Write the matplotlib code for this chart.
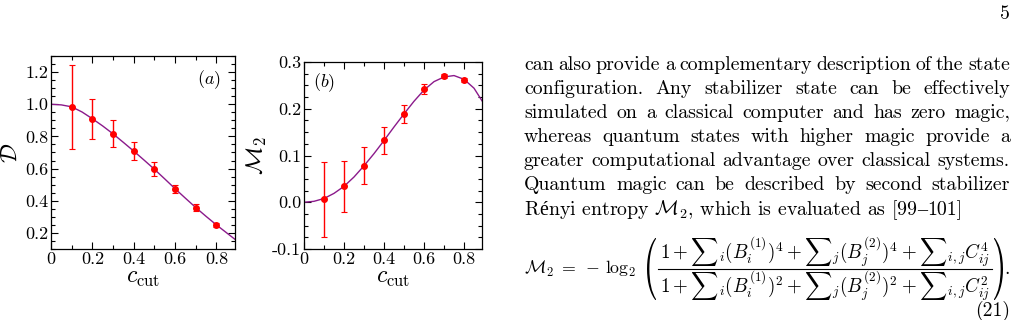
import numpy as np
import matplotlib
matplotlib.use('Agg')
import matplotlib.pyplot as plt
from matplotlib.ticker import MultipleLocator
from matplotlib.textpath import TextPath
from matplotlib.patches import PathPatch
from matplotlib.font_manager import FontProperties
from matplotlib.transforms import Affine2D, IdentityTransform
from matplotlib.lines import Line2D

plt.rcParams['mathtext.fontset'] = 'cm'
plt.rcParams['font.family'] = ['cmr10', 'DejaVu Serif']
plt.rcParams['axes.unicode_minus'] = False

# measured points (red, with error bars)
c_pts = [0.1, 0.2, 0.3, 0.4, 0.5, 0.6, 0.7, 0.8]
D_pts = [0.983, 0.908, 0.817, 0.708, 0.598, 0.473, 0.358, 0.250]
D_err = [0.260, 0.126, 0.082, 0.056, 0.042, 0.027, 0.020, 0.012]
M_pts = [0.006, 0.034, 0.078, 0.133, 0.189, 0.242, 0.270, 0.262]
M_err = [0.081, 0.054, 0.040, 0.029, 0.020, 0.010, 0.004, 0.004]

# theory curves (purple)
c_line = [0.0, 0.05, 0.1, 0.15, 0.2, 0.25, 0.3, 0.35, 0.4, 0.45,
          0.5, 0.55, 0.6, 0.65, 0.7, 0.75, 0.8, 0.85, 0.89]
D_line = [1.0, 0.996, 0.984, 0.952, 0.910, 0.865, 0.816, 0.763, 0.709, 0.653,
          0.596, 0.536, 0.475, 0.416, 0.358, 0.303, 0.250, 0.200, 0.160]
M_line = [0.0, 0.002, 0.008, 0.019, 0.034, 0.054, 0.078, 0.104, 0.132, 0.161,
          0.189, 0.216, 0.240, 0.258, 0.268, 0.271, 0.263, 0.244, 0.217]

D_ticks = [0.2, 0.4, 0.6, 0.8, 1.0, 1.2]
M_ticks = [-0.1, 0.0, 0.1, 0.2, 0.3]
x_ticks = [0, 0.2, 0.4, 0.6, 0.8]

body_lines = [
    'can also provide a complementary description of the state',
    'configuration. Any stabilizer state can be effectively',
    'simulated on a classical computer and has zero magic,',
    'whereas quantum states with higher magic provide a',
    'greater computational advantage over classical systems.',
    'Quantum magic can be described by second stabilizer',
]
# last (ragged) line as runs: (text, font)
last_runs = [('R', 'cmr10'), ('é', 'Liberation Serif'),
             (r'nyi entropy $\mathcal{M}_2$, which is evaluated as [99', 'cmr10'),
             ('–', 'Liberation Serif'), ('101]', 'cmr10')]

lhs_eq = r'$\mathcal{M}_2 \;=\; -\,\log_2$'
numer = r'$1+{\sum}_i(B_i^{(1)})^4+{\sum}_j(B_j^{(2)})^4+{\sum}_{i,j}C_{ij}^4$'
denom = r'$1+{\sum}_i(B_i^{(1)})^2+{\sum}_j(B_j^{(2)})^2+{\sum}_{i,j}C_{ij}^2$'

W, H = 1025, 320
fig = plt.figure(figsize=(W / 100, H / 100), dpi=100)
renderer = fig.canvas.get_renderer()


def box(x0, y0, x1, y1):
    return [x0 / W, 1 - y1 / H, (x1 - x0) / W, (y1 - y0) / H]


def style(ax, yticks, ylabels, ylim, yminor):
    ax.set_xlim(0, 0.89)
    ax.set_ylim(*ylim)
    ax.set_xticks(x_ticks)
    ax.set_xticklabels(['0', '0.2', '0.4', '0.6', '0.8'])
    ax.set_yticks(yticks)
    ax.set_yticklabels(ylabels)
    ax.xaxis.set_minor_locator(MultipleLocator(0.1))
    ax.yaxis.set_minor_locator(MultipleLocator(yminor))
    ax.tick_params(which='both', direction='in', top=True, right=True,
                   labelsize=13, width=0.8, pad=2)
    ax.tick_params(which='major', length=5)
    ax.tick_params(which='minor', length=3)
    for s in ax.spines.values():
        s.set_linewidth(0.9)
    ax.set_xlabel(r'$c_{\mathrm{cut}}$', fontsize=17, labelpad=0)


ax1 = fig.add_axes(box(51, 56, 235, 249))
ax1.plot(c_line, D_line, color='#8b1a8b', lw=1.0, zorder=2)
ax1.errorbar(c_pts, D_pts, yerr=D_err, fmt='o', color='red', ms=4,
             elinewidth=1.0, capsize=2, capthick=0.8, zorder=3)
style(ax1, D_ticks, ['0.2', '0.4', '0.6', '0.8', '1.0', '1.2'], (0.1, 1.3), 0.05)
ax1.set_ylabel(r'$\mathcal{D}$', fontsize=17, labelpad=2)
ax1.text(0.856, 0.876, r'$(a)$', transform=ax1.transAxes, fontsize=13,
         ha='center', va='center')

ax2 = fig.add_axes(box(304, 62, 482, 249))
ax2.plot(c_line, M_line, color='#8b1a8b', lw=1.0, zorder=2)
ax2.errorbar(c_pts, M_pts, yerr=M_err, fmt='o', color='red', ms=4,
             elinewidth=1.0, capsize=2, capthick=0.8, zorder=3)
style(ax2, M_ticks, ['-0.1', '0.0', '0.1', '0.2', '0.3'], (-0.1, 0.3), 0.025)
ax2.set_ylabel(r'$\mathcal{M}_2$', fontsize=17, labelpad=2)
ax2.text(0.11, 0.888, r'$(b)$', transform=ax2.transAxes, fontsize=13,
         ha='center', va='center')

# right column text, justified
fs = 14.3
left, right = 524, 1010
base0, step = 69.5, 24.2
for k, line in enumerate(body_lines):
    words = line.split()
    y = 1 - (base0 + k * step) / H
    objs = [fig.text(0, y, w, fontsize=fs, va='baseline') for w in words]
    widths = [o.get_window_extent(renderer).width for o in objs]
    gap = (right - left - sum(widths)) / (len(words) - 1)
    x = left
    for o, w in zip(objs, widths):
        o.set_x(x / W)
        x += w + gap

x = left
y = 1 - (base0 + 6 * step) / H
for s, fam in last_runs:
    t = fig.text(x / W, y, s, fontsize=fs, va='baseline', family=[fam])
    x += t.get_window_extent(renderer).width

# equation (21), built from pieces
tl = fig.text(left / W, 1 - 274 / H, lhs_eq, fontsize=15, va='baseline')
wl = tl.get_window_extent(renderer).width
tl.set_fontsize(15 * (636 - left) / wl)
fx0, fx1, fbar = 658, 992, 268.5
tn = fig.text((fx0 + fx1) / 2 / W, 1 - 252 / H, numer, fontsize=fs,
              ha='center', va='center')
td = fig.text((fx0 + fx1) / 2 / W, 1 - 286 / H, denom, fontsize=fs,
              ha='center', va='center')
wn = tn.get_window_extent(renderer).width
scale = (fx1 - fx0 - 4) / wn
tn.set_fontsize(fs * scale)
td.set_fontsize(fs * scale)
fig.add_artist(Line2D([fx0 / W, fx1 / W], [1 - fbar / H, 1 - fbar / H],
                      transform=fig.transFigure, color='black', lw=0.8))


def paren(ch, x0, x1, top, bot):
    p = TextPath((0, 0), ch, size=20, prop=FontProperties(family='cmr10'))
    e = p.get_extents()
    tr = (Affine2D().translate(-e.x0, -e.y0)
          .scale((x1 - x0) / e.width, (bot - top) / e.height)
          .translate(x0, H - bot))
    fig.add_artist(PathPatch(tr.transform_path(p), transform=IdentityTransform(),
                             facecolor='black', edgecolor='none'))


paren('(', 647, 656, 238, 300)
paren(')', 994, 1003, 238, 300)
fig.text(right / W, 1 - 274 / H, '.', fontsize=fs, ha='right', va='baseline')
fig.text(right / W, 1 - 311 / H, '(21)', fontsize=fs, ha='right', va='center')
fig.text(right / W, 1 - 14 / H, '5', fontsize=fs, ha='right', va='center')

fig.savefig('out.png', dpi=100)
